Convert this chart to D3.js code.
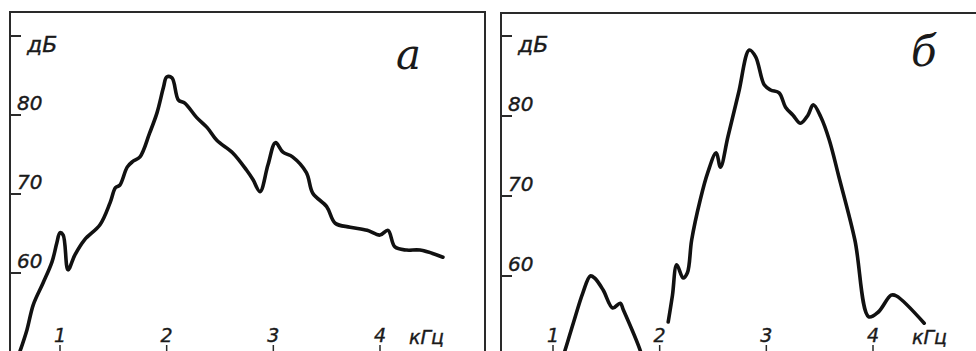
<!DOCTYPE html>
<html>
<head>
<meta charset="utf-8">
<script src="https://cdn.jsdelivr.net/npm/d3@7"></script>
<style>
  html, body { margin: 0; padding: 0; background: #fff; }
  svg { display: block; }
  .lbl { font-family: "DejaVu Sans", sans-serif; font-style: italic; fill: #1a1a1a; stroke: #1a1a1a; stroke-width: 0.4; }
  .letter { font-family: "DejaVu Serif", serif; font-style: italic; fill: #1a1a1a; }
</style>
</head>
<body>
<svg id="chart" width="976" height="351"></svg>
<script>
// tick values
const xTicks = [1, 2, 3, 4];
const yTicks = [60, 70, 80];
const yUnitAt = 90;

// panel а: spectrum, kHz vs dB
const freqA = [0.625, 0.69, 0.75, 0.84, 0.925, 0.97, 1.0, 1.03, 1.075, 1.14, 1.23, 1.375, 1.47, 1.52, 1.56,
  1.63, 1.68, 1.75, 1.84, 1.91, 1.97, 2.0, 2.05, 2.11, 2.17, 2.28, 2.38, 2.47, 2.62, 2.75, 2.81, 2.875,
  2.95, 3.02, 3.09, 3.18, 3.31, 3.37, 3.5, 3.58, 3.72, 3.88, 4.0, 4.075, 4.14, 4.25, 4.375, 4.59];
const dbA = [50.1, 52.8, 56.0, 58.7, 61.4, 63.8, 65.1, 64.8, 60.4, 62.3, 64.2, 66.1, 68.9, 70.8, 71.1,
  73.4, 74.1, 74.7, 77.7, 80.3, 83.5, 84.8, 84.7, 81.9, 81.5, 79.7, 78.4, 76.8, 75.2, 73.0, 71.8, 70.3,
  73.7, 76.5, 75.3, 74.7, 72.7, 70.1, 68.4, 66.3, 65.8, 65.4, 64.8, 65.4, 63.3, 62.9, 62.9, 62.0];

// panel б: two separate pieces
const freqB1 = [1.08, 1.11, 1.19, 1.28, 1.35, 1.39, 1.47, 1.56, 1.63, 1.66, 1.82, 1.84];
const dbB1 = [49.5, 50.6, 54.1, 57.9, 60.0, 59.75, 58.25, 56.0, 56.6, 55.75, 50.6, 49.5];

const freqB2 = [2.08, 2.12, 2.16, 2.22, 2.26, 2.30, 2.38, 2.45, 2.53, 2.57, 2.64, 2.74, 2.84, 2.90, 2.98,
  3.04, 3.12, 3.18, 3.25, 3.32, 3.39, 3.44, 3.51, 3.59, 3.68, 3.83, 3.96, 4.05, 4.17, 4.22, 4.48];
const dbB2 = [54.25, 57.6, 61.4, 59.75, 60.4, 64.5, 69.5, 72.9, 75.4, 73.6, 77.4, 82.9, 88.25, 87.4, 83.9,
  83.25, 82.9, 81.1, 80.1, 79.1, 80.1, 81.4, 79.9, 77.0, 72.4, 64.5, 54.9, 55.5, 57.6, 57.5, 54.1];

const svg = d3.select('#chart');
const H = 351;

const panels = [
  {
    letter: 'а', left: 10, top: 12, right: 485,
    x: d3.scaleLinear().domain([1, 4]).range([60, 380]),
    y: d3.scaleLinear().domain([60, 80]).range([273, 115]),
    series: [[freqA, dbA]],
    letterPos: [396, 69], unitX: 409
  },
  {
    letter: 'б', left: 501, top: 13, right: 990,
    x: d3.scaleLinear().domain([1, 4]).range([553, 873]),
    y: d3.scaleLinear().domain([60, 80]).range([276, 116]),
    series: [[freqB1, dbB1], [freqB2, dbB2]],
    letterPos: [911, 66], unitX: 912
  }
];

panels.forEach(p => {
  const g = svg.append('g');

  // frame (open at the bottom, cut by the picture edge)
  g.append('path')
    .attr('d', `M${p.left},${H + 2}V${p.top}H${p.right}V${H + 2}`)
    .attr('fill', 'none')
    .attr('stroke', '#2a2a2a')
    .attr('stroke-width', 2);

  // y ticks: short strokes inward, label sitting above
  const yt = yTicks.concat([yUnitAt]);
  g.selectAll('.ytick')
    .data(yt)
    .enter().append('line')
    .attr('x1', p.left)
    .attr('x2', p.left + 11)
    .attr('y1', d => p.y(d))
    .attr('y2', d => p.y(d))
    .attr('stroke', '#2a2a2a')
    .attr('stroke-width', 2);

  g.selectAll('.ylab')
    .data(yTicks)
    .enter().append('text')
    .attr('class', 'lbl')
    .attr('x', p.left + 7)
    .attr('y', d => p.y(d) - 5)
    .attr('font-size', 20)
    .text(d => d);

  g.append('text')
    .attr('class', 'lbl')
    .attr('x', p.left + 17)
    .attr('y', p.y(yUnitAt) + 16)
    .attr('font-size', 22)
    .text('дБ');

  // x ticks along the bottom edge
  g.selectAll('.xtick')
    .data(xTicks)
    .enter().append('line')
    .attr('x1', d => p.x(d))
    .attr('x2', d => p.x(d))
    .attr('y1', H - 6)
    .attr('y2', H)
    .attr('stroke', '#2a2a2a')
    .attr('stroke-width', 1.5);

  g.selectAll('.xlab')
    .data(xTicks)
    .enter().append('text')
    .attr('class', 'lbl')
    .attr('x', d => p.x(d))
    .attr('y', H - 9)
    .attr('text-anchor', 'middle')
    .attr('font-size', 19)
    .text(d => d);

  g.append('text')
    .attr('class', 'lbl')
    .attr('x', p.unitX)
    .attr('y', H - 7)
    .attr('font-size', 19)
    .text('кГц');

  // panel letter
  g.append('text')
    .attr('class', 'letter')
    .attr('x', p.letterPos[0])
    .attr('y', p.letterPos[1])
    .attr('font-size', 42)
    .text(p.letter);

  // curves
  const line = d3.line()
    .x(d => p.x(d[0]))
    .y(d => p.y(d[1]))
    .curve(d3.curveCatmullRom.alpha(0.5));

  p.series.forEach(([fx, fy]) => {
    const pts = fx.map((f, i) => [f, fy[i]]);
    g.append('path')
      .datum(pts)
      .attr('d', line)
      .attr('fill', 'none')
      .attr('stroke', '#111')
      .attr('stroke-width', 3.6)
      .attr('stroke-linejoin', 'round')
      .attr('stroke-linecap', 'round');
  });
});
</script>
</body>
</html>
